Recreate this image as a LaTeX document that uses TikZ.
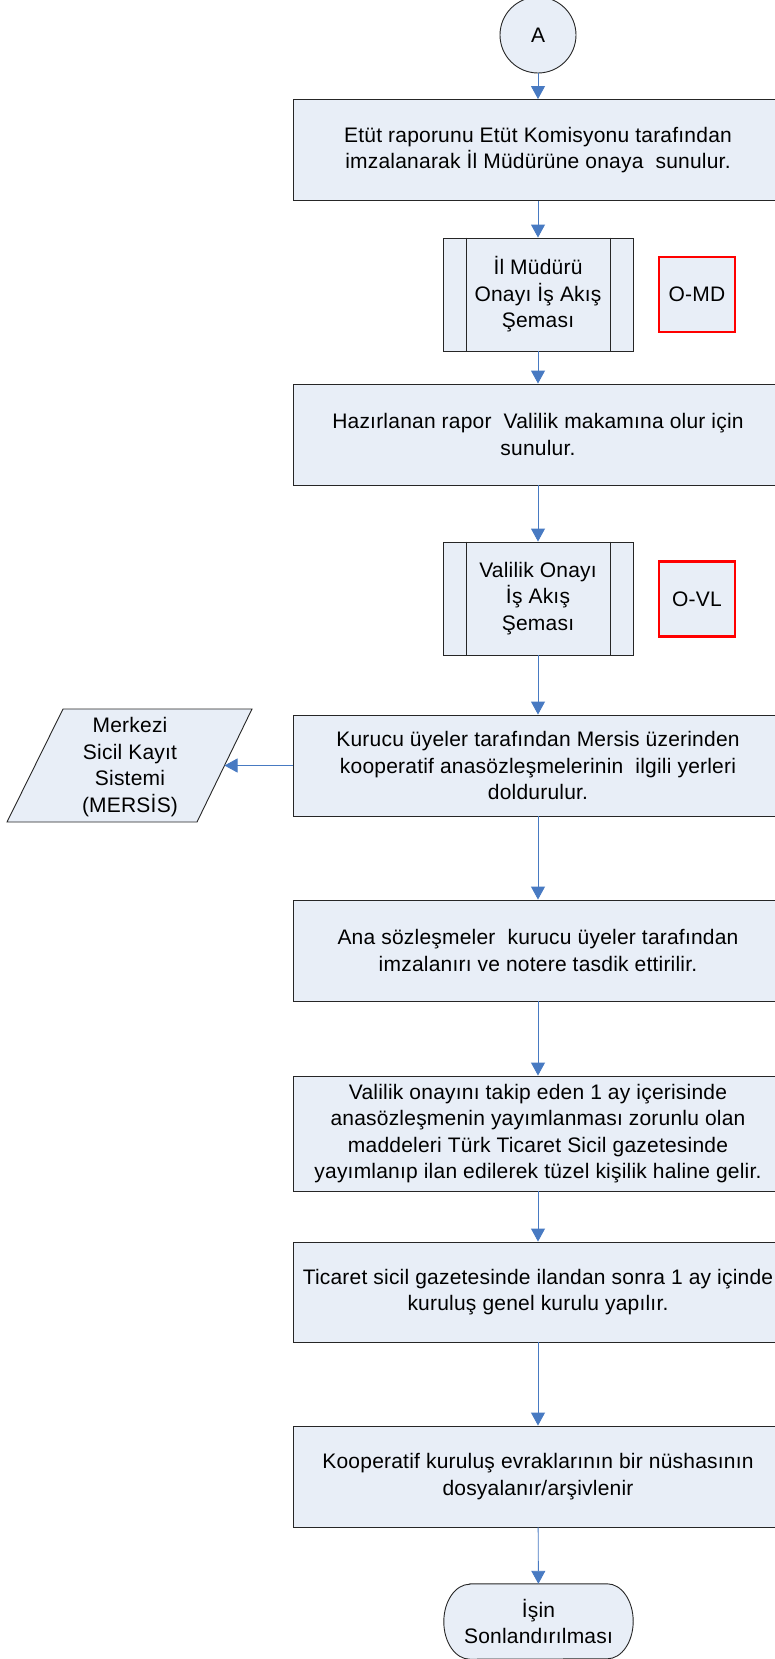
\documentclass[tikz,border=0pt]{standalone}
\usepackage{fontspec}
\setmainfont{Liberation Sans}[LetterSpace=1]
\usepackage{xcolor}
\usetikzlibrary{arrows.meta}
\definecolor{boxfill}{RGB}{232,238,247}
\definecolor{flowblue}{RGB}{72,122,194}

\begin{document}
\begin{tikzpicture}[x=1pt,y=-1pt,
  islem/.style={draw=black!85,fill=boxfill,line width=0.9pt,inner sep=0pt,align=center,
    minimum width=490,minimum height=101,font=\fontsize{21}{26.5}\selectfont},
  altsurec/.style={islem,minimum width=190,minimum height=113},
  kod/.style={draw=red,fill=boxfill,line width=2.6pt,inner sep=0pt,minimum width=76,minimum height=75,
    font=\fontsize{21}{26.5}\selectfont},
  akis/.style={flowblue,line width=0.9pt,-{Triangle[length=13pt,width=14pt]}}]
  \useasboundingbox (0,0) rectangle (775,1659);
  \clip (0,0) rectangle (775,1659); %只显示图片区域

  \node[circle,draw=black!85,fill=boxfill,line width=0.9pt,minimum size=76,inner sep=0pt,
    font=\fontsize{21}{26.5}\selectfont] (bas) at (538,35) {A};
  \node[islem] (etut) at (538,150) {Etüt raporunu Etüt Komisyonu tarafından\\imzalanarak İl Müdürüne onaya\ \ sunulur.};
  \node[altsurec] (ilmd) at (538,294.5) {İl Müdürü\\Onayı İş Akış\\Şeması};
  \node[kod] (omd) at (697,294.5) {O-MD};
  \node[islem] (rapor) at (538,434.5) {Hazırlanan rapor\ \ Valilik makamına olur için\\sunulur.};
  \node[altsurec] (vali) at (538,598.5) {Valilik Onayı\\İş Akış\\Şeması};
  \node[kod] (ovl) at (697,599) {O-VL};
  \node[islem] (kurucu) at (538,765.5) {Kurucu üyeler tarafından Mersis üzerinden\\kooperatif anasözleşmelerinin\ \ ilgili yerleri\\doldurulur.};
  \node[islem] (anasoz) at (538,950.5) {Ana sözleşmeler\ \ kurucu üyeler tarafından\\imzalanırı ve notere tasdik ettirilir.};
  \node[islem,minimum height=115] (ilan) at (538,1133.5) {Valilik onayını takip eden 1 ay içerisinde\\anasözleşmenin yayımlanması zorunlu olan\\maddeleri Türk Ticaret Sicil gazetesinde\\yayımlanıp ilan edilerek tüzel kişilik haline gelir.};
  \node[islem,minimum height=100] (genel) at (538,1292) {Ticaret sicil gazetesinde ilandan sonra 1 ay içinde\\kuruluş genel kurulu yapılır.};
  \node[islem] (arsiv) at (538,1476.5) {Kooperatif kuruluş evraklarının bir nüshasının\\dosyalanır/arşivlenir};

  % 结束框: 两端为椭圆弧
  \node[inner sep=0pt,minimum width=189,minimum height=75,align=center,
    font=\fontsize{21}{26.5}\selectfont] (son) at (538.5,1621.5) {İşin\\Sonlandırılması};
  \filldraw[fill=boxfill,draw=black!85,line width=0.9pt]
    ([xshift=26]son.north west) -- ([xshift=-26]son.north east)
    arc[start angle=-90,end angle=90,x radius=26,y radius=37.5]
    -- ([xshift=26]son.south west)
    arc[start angle=90,end angle=270,x radius=26,y radius=37.5] -- cycle;
  \node[align=center,font=\fontsize{21}{26.5}\selectfont] at (son) {İşin\\Sonlandırılması};

  % 数据框 (平行四边形)
  \filldraw[fill=boxfill,draw=black!85,line width=0.9pt]
    (63,709) -- (252,709) -- (197,822) -- (7,822) -- cycle;
  \node[align=center,font=\fontsize{21}{26.5}\selectfont] (mersis) at (130,767) {Merkezi\\Sicil Kayıt\\Sistemi\\(MERSİS)};
  \coordinate (mersisR) at (224.5,765.5);

  % 子流程的竖线
  \foreach \n in {ilmd,vali}{
    \draw[black!85,line width=0.9pt] ([xshift=23.5]\n.north west) -- ([xshift=23.5]\n.south west);
    \draw[black!85,line width=0.9pt] ([xshift=-23.5]\n.north east) -- ([xshift=-23.5]\n.south east);
  }

  \draw[akis] (bas) -- (etut);
  \draw[akis] (etut) -- (ilmd);
  \draw[akis] (ilmd) -- (rapor);
  \draw[akis] (rapor) -- (vali);
  \draw[akis] (vali) -- (kurucu);
  \draw[akis] (kurucu.west) -- (mersisR);
  \draw[akis] (kurucu) -- (anasoz);
  \draw[akis] (anasoz) -- (ilan);
  \draw[akis] (ilan) -- (genel);
  \draw[akis] (genel) -- (arsiv);
  \draw[akis] (arsiv) -- (son);
\end{tikzpicture}
\end{document}
